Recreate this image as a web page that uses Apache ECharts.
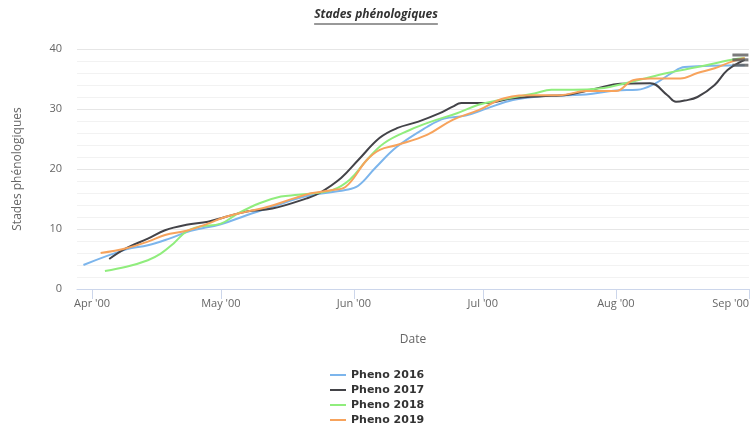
<!DOCTYPE html>
<html>
<head>
<meta charset="utf-8">
<script src="https://cdn.jsdelivr.net/npm/echarts@6/dist/echarts.min.js"></script>
<style>html,body{margin:0;padding:0;background:#fff;}#c{width:752px;height:427px;}</style>
</head>
<body>
<div id="c"></div>
<script>
// ---- data ----
const seriesNames = ['Pheno 2016', 'Pheno 2017', 'Pheno 2018', 'Pheno 2019'];
const tickDates = ['2000-04-01', '2000-05-01', '2000-06-01', '2000-07-01', '2000-08-01', '2000-09-01'];
const tickLabels = ["Apr '00", "May '00", "Jun '00", "Jul '00", "Aug '00", "Sep '00"];
const yTicks = [0, 10, 20, 30, 40];

const dates2016 = ['2000-03-30','2000-04-09','2000-04-14','2000-04-19','2000-04-24','2000-05-01','2000-05-07','2000-05-13','2000-05-21','2000-05-30','2000-06-02','2000-06-06','2000-06-11','2000-06-18','2000-06-22','2000-06-27','2000-07-02','2000-07-08','2000-07-14','2000-07-25','2000-08-01','2000-08-06','2000-08-10','2000-08-14','2000-08-17','2000-08-31'];
const values2016 = [4, 6.6, 7.3, 8.4, 9.7, 10.8, 12.3, 13.7, 15.5, 16.5, 17.2, 20.2, 23.7, 27, 28.4, 28.9, 30.1, 31.5, 32.1, 32.4, 33.1, 33.2, 34.2, 36, 37, 37.3];

const dates2017 = ['2000-04-05','2000-04-09','2000-04-14','2000-04-18','2000-04-23','2000-04-28','2000-05-02','2000-05-07','2000-05-13','2000-05-21','2000-05-24','2000-05-29','2000-06-02','2000-06-07','2000-06-11','2000-06-16','2000-06-21','2000-06-24','2000-06-26','2000-07-02','2000-07-08','2000-07-17','2000-07-20','2000-07-25','2000-07-28','2000-08-02','2000-08-09','2000-08-13','2000-08-15','2000-08-17','2000-08-20','2000-08-24','2000-08-27','2000-08-31'];
const values2017 = [5, 6.8, 8.4, 9.8, 10.7, 11.2, 12, 12.9, 13.4, 15.1, 16, 18.5, 21.5, 25.2, 26.8, 27.9, 29.3, 30.4, 31, 31, 31.8, 32.2, 32.3, 33, 33.5, 34.2, 34.3, 32.3, 31.2, 31.4, 32, 34, 36.5, 38.2];

const dates2018 = ['2000-04-04','2000-04-09','2000-04-14','2000-04-17','2000-04-20','2000-04-23','2000-04-26','2000-05-01','2000-05-05','2000-05-10','2000-05-15','2000-05-19','2000-05-27','2000-05-31','2000-06-04','2000-06-08','2000-06-14','2000-06-19','2000-06-25','2000-06-30','2000-07-05','2000-07-13','2000-07-17','2000-07-22','2000-07-28','2000-08-05','2000-08-13','2000-08-20','2000-08-28','2000-08-31'];
const values2018 = [3, 3.7, 4.8, 5.9, 7.6, 9.6, 10.4, 10.9, 12.6, 14.3, 15.4, 15.7, 16.5, 18.2, 21.5, 24.3, 26.5, 27.9, 29.3, 30.7, 31.5, 32.6, 33.2, 33.2, 33.4, 34.6, 36, 37, 38.2, 38.5];

const dates2019 = ['2000-04-03','2000-04-09','2000-04-14','2000-04-18','2000-04-23','2000-04-28','2000-05-02','2000-05-07','2000-05-12','2000-05-18','2000-05-22','2000-05-27','2000-05-30','2000-06-04','2000-06-07','2000-06-11','2000-06-18','2000-06-24','2000-06-30','2000-07-06','2000-07-13','2000-07-19','2000-07-25','2000-08-01','2000-08-05','2000-08-09','2000-08-16','2000-08-20','2000-08-24','2000-08-28','2000-08-31'];
const values2019 = [6, 6.8, 7.9, 9, 9.7, 10.9, 12, 12.9, 13.7, 15.1, 15.95, 16.5, 17, 21.5, 23.2, 24, 25.7, 28.2, 29.8, 31.8, 32.3, 32.3, 33, 33, 34.8, 35.1, 35.1, 36, 36.8, 37.9, 38.5];

const endMarkDates = ['2000-08-30', '2000-08-30', '2000-08-30'];
const endMarkValues = [39, 38.2, 37.3];

const colors = ['#7cb5ec', '#434348', '#90ed7d', '#f7a35c'];

// ---- helpers ----
function ts(s) { const p = s.split('-').map(Number); return new Date(p[0], p[1] - 1, p[2]).getTime(); }
function pairs(d, v) { return d.map((x, i) => [ts(x), v[i]]); }

const allDates = [dates2016, dates2017, dates2018, dates2019];
const allValues = [values2016, values2017, values2018, values2019];
const tickValues = tickDates.map(ts);
const labelMap = {};
tickValues.forEach((t, i) => { labelMap[t] = tickLabels[i]; });

const xMin = new Date(2000, 2, 28, 12).getTime();
const xMax = ts('2000-09-01');

const titleText = 'Stades phénologiques';
const titleFont = 'italic bold 12px "Open Sans"';
const cv = document.createElement('canvas').getContext('2d');
cv.font = titleFont;
const tw = cv.measureText(titleText).width;

const chart = echarts.init(document.getElementById('c'), null, { renderer: 'canvas' });

const series = seriesNames.map((n, i) => ({
  name: n,
  type: 'line',
  smooth: 0.4,
  showSymbol: false,
  symbol: 'none',
  data: pairs(allDates[i], allValues[i]),
  lineStyle: { width: 2, color: colors[i] },
  itemStyle: { color: colors[i] },
  z: 2 + i
}));
series.push({
  name: 'ends',
  type: 'scatter',
  symbol: 'rect',
  symbolSize: [16, 3],
  data: pairs(endMarkDates, endMarkValues),
  itemStyle: { color: '#5a5a5a' },
  z: 10,
  silent: true
});

chart.setOption({
  animation: false,
  color: colors,
  grid: { left: 77, right: 3, top: 49, bottom: 138, containLabel: false },
  graphic: [
    { type: 'text', left: 'center', top: 9,
      style: { text: titleText, font: titleFont, fill: '#333' } },
    { type: 'line', shape: { x1: 376 - tw / 2, y1: 24, x2: 376 + tw / 2, y2: 24 },
      style: { stroke: '#333', lineWidth: 1 } }
  ],
  legend: {
    data: seriesNames,
    orient: 'vertical',
    left: 330,
    top: 368,
    height: 60,
    padding: 0,
    icon: 'rect',
    itemWidth: 16,
    itemHeight: 2,
    itemGap: 1,
    textStyle: { fontFamily: '"DejaVu Sans"', fontWeight: 'bold', fontSize: 11, color: '#333', lineHeight: 14 }
  },
  xAxis: {
    type: 'value',
    min: xMin,
    max: xMax,
    name: 'Date',
    nameLocation: 'middle',
    nameGap: 45,
    nameTextStyle: { color: '#666', fontSize: 12, fontFamily: '"Open Sans"' },
    axisLine: { show: true, lineStyle: { color: '#ccd6eb', width: 1 } },
    axisTick: { show: true, customValues: tickValues, length: 10, lineStyle: { color: '#ccd6eb' } },
    axisLabel: {
      customValues: tickValues,
      formatter: v => labelMap[v] || '',
      color: '#666', fontSize: 11, fontFamily: '"Open Sans"', margin: 9,
      alignMaxLabel: 'right'
    },
    splitLine: { show: false }
  },
  yAxis: {
    type: 'value',
    min: yTicks[0],
    max: yTicks[yTicks.length - 1],
    interval: 10,
    name: 'Stades phénologiques',
    nameLocation: 'middle',
    nameRotate: 90,
    nameGap: 53,
    nameTextStyle: { color: '#666', fontSize: 12, fontFamily: '"Open Sans"' },
    axisLine: { show: false },
    axisTick: { show: false },
    axisLabel: { color: '#666', fontSize: 11, fontFamily: '"Open Sans"', margin: 15 },
    splitLine: { show: true, lineStyle: { color: '#e6e6e6', width: 1 } },
    minorTick: { show: false, splitNumber: 5 },
    minorSplitLine: { show: true, lineStyle: { color: '#f2f2f2', width: 1 } }
  },
  series: series
});
</script>
</body>
</html>
